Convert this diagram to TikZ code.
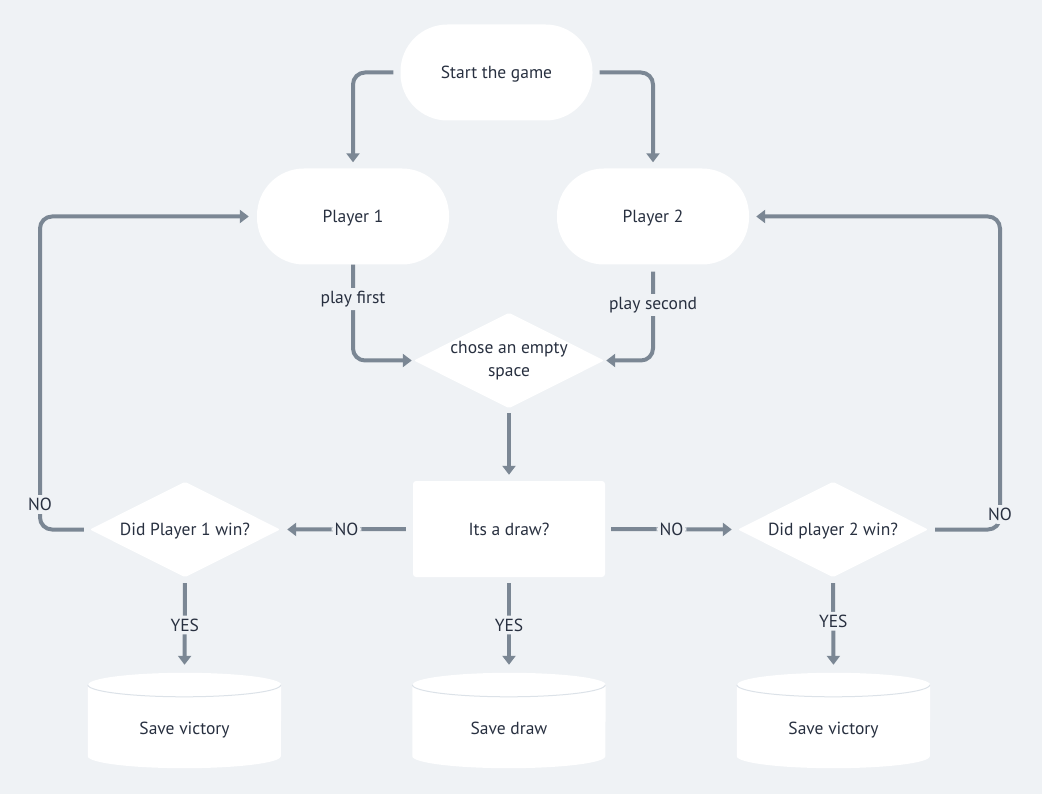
\documentclass[tikz,border=0pt]{standalone}
\usepackage{fontspec}
\setmainfont{PT Sans}
\usetikzlibrary{arrows.meta,backgrounds}
\definecolor{bgc}{HTML}{EFF2F5}
\definecolor{ln}{HTML}{7B8794}
\definecolor{tx}{HTML}{283040}
\definecolor{rim}{HTML}{DCE2E8}
\begin{document}
\begin{tikzpicture}[x=1pt,y=1pt,
  font=\fontsize{17.5}{23}\selectfont,
  term/.style={fill=white, rounded corners=47pt, minimum width=192pt, minimum height=96pt, inner sep=0pt, text=tx, text height=12.5pt, text depth=0pt},
  dec/.style={rectangle, minimum width=190pt, minimum height=95pt, inner sep=0pt, align=center, text=tx},
  proc/.style={rectangle, fill=white, rounded corners=3pt, minimum width=192pt, minimum height=96pt, text=tx, text height=12.5pt, text depth=0pt},
  store/.style={rectangle, minimum width=193pt, minimum height=95pt, inner sep=0pt, text height=27pt, text depth=0pt, text=tx},
  arr/.style={draw=ln, line width=4pt, rounded corners=12pt, -{Triangle[width=13pt,length=9pt]}},
  lbl/.style={fill=bgc, inner sep=3pt, text=tx},
]
\useasboundingbox (0,0) rectangle (1042,-794);
\node[term] (st) at (496.5,-72.5) {Start the game};
\node[term] (p1) at (353,-216.5) {Player 1};
\node[term] (p2) at (653,-216.5) {Player 2};
\node[dec] (ch) at (509,-360.5) {chose an empty\\space};
\node[proc] (dr) at (509,-529) {Its a draw?};
\node[dec, text height=12.5pt, text depth=0pt] (w1) at (185,-529.5) {Did Player 1 win?};
\node[dec, text height=12.5pt, text depth=0pt] (w2) at (833,-529.5) {Did player 2 win?};
\node[store] (s1) at (184.5,-720.5) {Save victory};
\node[store] (s2) at (509,-720.5) {Save draw};
\node[store] (s3) at (833.5,-720.5) {Save victory};
\coordinate (c1) at (40,-529.5);
\coordinate (c2) at (1000,-529.5);
\begin{scope}[on background layer]
  \fill[bgc] (0,0) rectangle (1042,-794);
  \foreach \d in {ch,w1,w2}{
    \fill[white, rounded corners=2pt] (\d.north) -- (\d.east) -- (\d.south) -- (\d.west) -- cycle;
  }
  \foreach \s in {s1,s2,s3}{
    \fill[white] ([yshift=-12pt]\s.north west) -- ([yshift=12pt]\s.south west)
      arc[start angle=180,end angle=360,x radius=96.5pt,y radius=12pt]
      -- ([yshift=-12pt]\s.north east)
      arc[start angle=0,end angle=180,x radius=96.5pt,y radius=12pt] -- cycle;
    \draw[rim, line width=1pt] ([yshift=-12pt]\s.north west)
      arc[start angle=180,end angle=360,x radius=96.5pt,y radius=12pt];
  }
\end{scope}
\draw[arr, shorten <=7pt, shorten >=6pt] (st.west) -| (p1.north);
\draw[arr, shorten <=7pt, shorten >=6pt] (st.east) -| (p2.north);
\draw[arr, shorten >=2pt] (p1.south) |- node[lbl,pos=0.18]{play first} (ch.west);
\draw[arr, shorten <=7pt, shorten >=2pt] (p2.south) |- node[lbl,pos=0.21]{play second} (ch.east);
\draw[arr, shorten <=5pt, shorten >=6pt] (ch.south) -- (dr.north);
\draw[arr, shorten <=7pt, shorten >=7pt] (dr.west) -- node[lbl]{NO} (w1.east);
\draw[arr, shorten <=6pt, shorten >=6pt] (dr.east) -- node[lbl]{NO} (w2.west);
\draw[arr, shorten <=6pt, shorten >=8pt] (w1.west) -- (c1) |- node[lbl,pos=0.04]{NO} (p1.west);
\draw[arr, shorten <=7pt, shorten >=7pt] (w2.east) -- (c2) |- node[lbl,pos=0.024]{NO} (p2.east);
\draw[arr, shorten <=6pt, shorten >=8pt] (w1.south) -- node[lbl]{YES} (s1.north);
\draw[arr, shorten <=6pt, shorten >=8pt] (dr.south) -- node[lbl]{YES} (s2.north);
\draw[arr, shorten <=6pt, shorten >=8pt] (w2.south) -- node[lbl,pos=0.46]{YES} (s3.north);
\end{tikzpicture}
\end{document}
